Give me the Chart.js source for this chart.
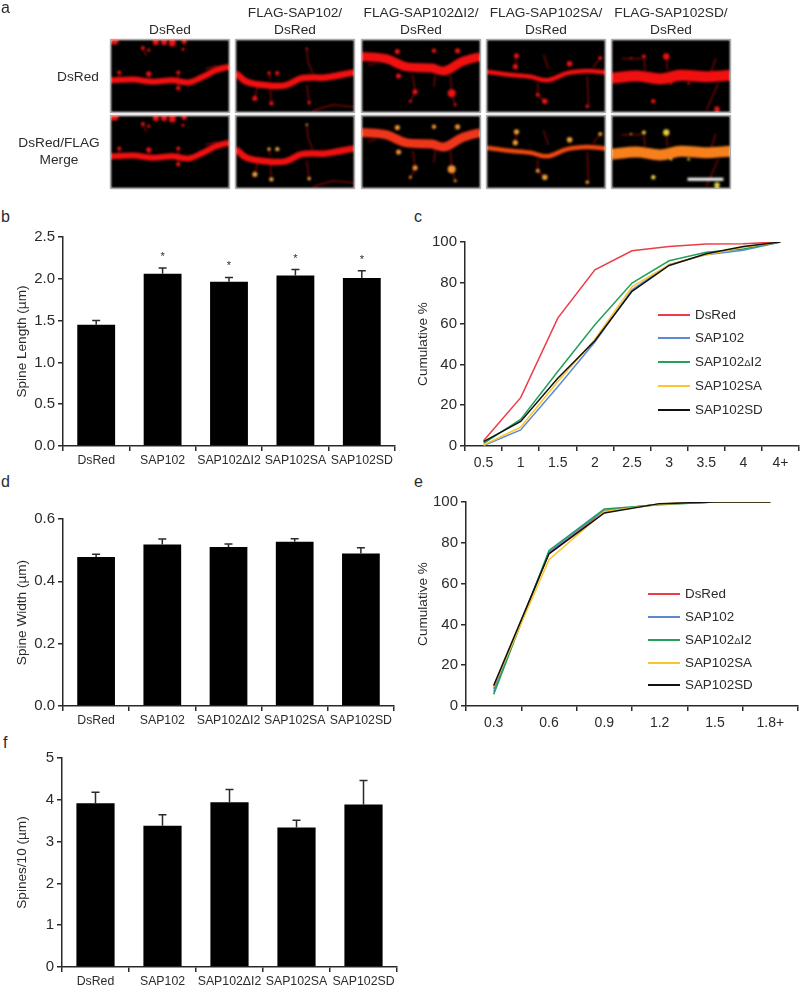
<!DOCTYPE html>
<html>
<head>
<meta charset="utf-8">
<title>SAP102 spines</title>
<script src="https://cdn.jsdelivr.net/npm/chart.js@4"></script>
<style>
  html, body { margin: 0; background: #fff; }
  body { position: relative; width: 800px; height: 985px; overflow: hidden; font-family: "Liberation Sans", Arial, sans-serif; color: #2b2b2b; }
  canvas { position: absolute; }
  .txt { position: absolute; white-space: nowrap; line-height: 1; }
  .head { font-size: 13.7px; transform: translate(-50%, -50%); text-align: center; line-height: 17px; }
  .letter { font-size: 16px; }
  .micro { background: #000; filter: blur(1px); }
  .frame { position: absolute; width: 118px; height: 72px; box-shadow: 0 0 0 1px #a8a8a8; }
  .plot { filter: blur(0.3px); }
  .key { position: absolute; font-size: 13.4px; height: 16px; line-height: 16px; white-space: nowrap; }
  .key i { position: absolute; left: 0; top: 7px; width: 32px; height: 1.5px; }
  .key span { position: absolute; top: 0; }
  .key small { font-size: 0.72em; }
</style>
</head>
<body>
<script>
// ---- panel b, d, f
const groups = ['DsRed', 'SAP102', 'SAP102ΔI2', 'SAP102SA', 'SAP102SD'];
const spineLength = [1.45, 2.06, 1.965, 2.04, 2.01];
const spineLengthErr = [1.50, 2.13, 2.017, 2.11, 2.097];
const spineLengthStars = [false, true, true, true, true];
const spineWidth = [0.478, 0.518, 0.51, 0.527, 0.489];
const spineWidthErr = [0.487, 0.536, 0.52, 0.537, 0.508];
const spineDensity = [3.92, 3.38, 3.94, 3.34, 3.89];
const spineDensityErr = [4.18, 3.64, 4.245, 3.51, 4.46];

// ---- panel c
const lengthBins = ['0.5', '1', '1.5', '2', '2.5', '3', '3.5', '4', '4+'];
const lenDsRed = [2.6, 23.7, 62.7, 86.4, 95.7, 97.8, 99, 99.2, 100];
const lenSap102 = [0.2, 7.9, 29, 51, 76.6, 88.9, 93.8, 95.9, 100];
const lenDeltaI2 = [1.3, 13, 36.5, 59.4, 79.9, 90.8, 95, 96.6, 100];
const lenSA = [0.5, 9.2, 31.6, 52.3, 78, 88.9, 93.8, 97.4, 100];
const lenSD = [2.1, 12, 33.2, 51.6, 75.8, 88.5, 94.2, 97.8, 100];

// ---- panel e
const widthBins = ['0.3', '0.6', '0.9', '1.2', '1.5', '1.8+'];
const widDsRed = [8.5, 75, 95.5, 99, 100, 100];
const widSap102 = [7, 75.5, 96, 98.9, 100, 100];
const widDeltaI2 = [5.7, 76.3, 96.6, 98.7, 100, 100];
const widSA = [9.5, 71.7, 95.4, 98.9, 100, 100];
const widSD = [10, 74.6, 94.6, 99.2, 100, 100];

const seriesNames = ['DsRed', 'SAP102', 'SAP102ΔI2', 'SAP102SA', 'SAP102SD'];
const seriesColors = ['#ee3c46', '#5b8ad2', '#23a05c', '#fdc52c', '#111111'];

const microHeads = [['DsRed'], ['FLAG-SAP102/', 'DsRed'], ['FLAG-SAP102ΔI2/', 'DsRed'], ['FLAG-SAP102SA/', 'DsRed'], ['FLAG-SAP102SD/', 'DsRed']];
const microLeft = [111, 236, 362, 487, 612];
const microTop = [40, 116];
const dendrites = [
  [[0, 56], [19, 55], [36, 58], [52, 56], [66, 59], [78, 51], [89, 42], [100, 37]],
  [[0, 46], [9, 58], [26, 63], [42, 63], [56, 53], [76, 52], [100, 45]],
  [[0, 23], [20, 26], [37, 37], [59, 39], [70, 43], [85, 30], [100, 23]],
  [[0, 44], [17, 48], [37, 51], [51, 56], [68, 46], [85, 43], [100, 45]],
  [[0, 53], [21, 50], [41, 54], [58, 49], [80, 51], [100, 49]]
];
const dendriteWidth = [6, 6.5, 9, 4.5, 11];
const branches = [
  [[[7, 45], [7, 52]], [[32, 47], [33, 53]], [[57, 45], [57, 67]], [[27, 11], [30, 22]], [[80, 40], [90, 36]]],
  [[[60, 12], [61, 30], [65, 46]], [[65, 98], [82, 90], [100, 93]], [[16, 81], [18, 65]], [[30, 88], [29, 65]], [[28, 46], [29, 55]], [[62, 87], [60, 62]]],
  [[[43, 48], [45, 72]], [[62, 48], [61, 65]], [[75, 48], [76, 74], [79, 90]], [[41, 85], [45, 72]], [[5, 35], [12, 33]]],
  [[[43, 60], [43, 76], [49, 85]], [[85, 50], [86, 92]], [[48, 20], [52, 40]], [[96, 25], [90, 38]], [[25, 22], [24, 37]]],
  [[[90, 60], [80, 98]], [[46, 23], [47, 42]], [[27, 23], [28, 42]], [[8, 26], [25, 26]], [[88, 25], [84, 44]]]
];
const spineDots = [
  [[7, 45, 2], [32, 47, 2.6], [57, 45, 2], [57, 67, 2.2], [27, 11, 2], [32, 14, 1.6], [45, 3, 3], [52, 4, 3.5], [38, 3, 3], [61, 13, 1.5], [3, 1, 4], [62, 2, 2.5]],
  [[16, 81, 2.6], [30, 88, 2.2], [28, 46, 1.8], [35, 46, 2.2], [62, 87, 1.8], [60, 12, 1.2]],
  [[30, 16, 2.6], [61, 15, 2.2], [81, 15, 2.6], [31, 50, 2.6], [45, 72, 2.6], [76, 74, 4], [41, 85, 1.5], [79, 90, 1.5]],
  [[25, 22, 2.6], [24, 37, 2.6], [70, 33, 2.8], [96, 25, 2], [43, 76, 2], [49, 85, 2.8], [85, 92, 1.8]],
  [[46, 23, 3.2], [27, 23, 2], [35, 85, 2.2], [89, 96, 2.8], [65, 60, 1.3], [50, 60, 1.3], [16, 25, 1]]
];
const mergeDendrite = ['#f01010', '#f01010', '#f0361a', '#f0480f', '#f77f1c'];
const mergeSpine = ['#ec1212', '#e8a038', '#f09030', '#f0a030', '#e6d038'];
const scaleBar = [[64, 88], [94.4, 88]];

Chart.defaults.font.family = '"Liberation Sans", Arial, sans-serif';
Chart.defaults.color = '#2b2b2b';
Chart.defaults.animation = false;
Chart.defaults.responsive = false;

function addCanvas(left, top, w, h, cls) {
  const c = document.createElement('canvas');
  c.width = w; c.height = h;
  c.style.cssText = `left:${left}px;top:${top}px;width:${w}px;height:${h}px`;
  c.className = cls;
  document.body.appendChild(c);
  return c.getContext('2d');
}

function addText(cls, x, y, html) {
  const d = document.createElement('div');
  d.className = 'txt ' + cls;
  d.style.left = x + 'px';
  d.style.top = y + 'px';
  d.innerHTML = html;
  document.body.appendChild(d);
}

// error caps and significance stars on top of the bars
const errorBars = {
  id: 'errorBars',
  afterDatasetsDraw(chart, args, opts) {
    const c = chart.ctx, y = chart.scales.y;
    chart.getDatasetMeta(0).data.forEach((bar, i) => {
      const top = y.getPixelForValue(opts.tops[i]);
      c.save();
      c.strokeStyle = '#2a2a2a';
      c.lineWidth = 1.5;
      c.beginPath();
      c.moveTo(bar.x, bar.y);
      c.lineTo(bar.x, top);
      c.moveTo(bar.x - 4, top);
      c.lineTo(bar.x + 4, top);
      c.stroke();
      if (opts.stars && opts.stars[i]) {
        c.fillStyle = '#2a2a2a';
        c.font = '11px "Liberation Sans"';
        c.textAlign = 'center';
        c.textBaseline = 'middle';
        c.fillText('*', bar.x, top - 11);
      }
      c.restore();
    });
  }
};

function axes(title, yMax, yStep, digits, yWidth, xHeight, xFont, xPad) {
  return {
    x: {
      offset: true,
      afterFit: s => { s.height = xHeight; },
      border: { color: '#2a2a2a', width: 1.5 },
      grid: { offset: true, drawOnChartArea: false, color: '#2a2a2a', tickLength: 5, lineWidth: 1.5 },
      ticks: { font: { size: xFont }, autoSkip: false, maxRotation: 0, padding: xPad }
    },
    y: {
      min: 0, max: yMax,
      afterFit: s => { s.width = yWidth; },
      border: { color: '#2a2a2a', width: 1.5 },
      grid: { drawOnChartArea: false, color: '#2a2a2a', tickLength: 5, lineWidth: 1.5 },
      ticks: { stepSize: yStep, font: { size: 15 }, padding: 3, callback: v => v.toFixed(digits) },
      title: { display: true, text: title, font: { size: 13.6 }, padding: 0 }
    }
  };
}

function barChart(box, title, values, tops, stars, yMax, yStep, digits) {
  new Chart(addCanvas(box.left, box.top, box.w, box.h, 'plot'), {
    type: 'bar',
    data: { labels: groups, datasets: [{ data: values, backgroundColor: '#000', categoryPercentage: 1, barPercentage: 0.57 }] },
    options: {
      layout: { padding: { top: box.padTop, right: box.padRight, left: 0, bottom: 0 } },
      scales: axes(title, yMax, yStep, digits, box.yWidth, box.xHeight, 12.3, 2),
      plugins: { legend: { display: false }, tooltip: { enabled: false }, errorBars: { tops, stars } }
    },
    plugins: [errorBars]
  });
}

function lineChart(box, bins, rows) {
  new Chart(addCanvas(box.left, box.top, box.w, box.h, 'plot'), {
    type: 'line',
    data: {
      labels: bins,
      // Chart.js paints low order last, black has to end up on top
      datasets: rows.map((r, i) => ({ label: seriesNames[i], data: r, order: rows.length - i, borderColor: seriesColors[i], borderWidth: 1.5, pointRadius: 0, tension: 0 }))
    },
    options: {
      layout: { padding: { top: box.padTop, right: box.padRight, left: 0, bottom: 0 } },
      scales: axes('Cumulative %', 100, 20, 0, box.yWidth, box.xHeight, 14, 4),
      plugins: { legend: { display: false }, tooltip: { enabled: false } }
    }
  });
}

function keyBox(x, ys) {
  seriesNames.forEach((name, i) => {
    const d = document.createElement('div');
    d.className = 'key';
    d.style.left = x + 'px';
    d.style.top = (ys[i] - 8) + 'px';
    d.innerHTML = `<i style="background:${seriesColors[i]}"></i><span style="left:37px">${name.replace('Δ', '<small>Δ</small>')}</span>`;
    document.body.appendChild(d);
  });
}

function microChart(left, top, idx, merged) {
  const dendriteColor = merged ? mergeDendrite[idx] : '#f01010';
  const spineColor = merged ? mergeSpine[idx] : '#ec1212';
  const pts = a => a.map(p => ({ x: p[0], y: p[1] }));
  const sets = [];
  if (merged && idx === 4) sets.push({ data: pts(scaleBar), borderColor: '#fff', borderWidth: 3, pointRadius: 0 });
  sets.push({ data: pts(spineDots[idx]), showLine: false, pointRadius: spineDots[idx].map(s => s[2]), pointBackgroundColor: spineColor, pointBorderWidth: 0 });
  sets.push({ data: pts(dendrites[idx]), borderColor: dendriteColor, borderWidth: dendriteWidth[idx], pointRadius: 0, tension: 0.35 });
  branches[idx].forEach(b => sets.push({ data: pts(b), borderColor: '#8c0a0a', borderWidth: 1.2, pointRadius: 0 }));
  new Chart(addCanvas(left, top, 118, 72, 'micro'), {
    type: 'line',
    data: { datasets: sets },
    options: {
      layout: { autoPadding: false },
      scales: {
        x: { type: 'linear', display: false, min: 0, max: 100 },
        y: { display: false, min: 0, max: 100, reverse: true }
      },
      plugins: { legend: { display: false }, tooltip: { enabled: false } }
    }
  });
  const f = document.createElement('div');
  f.className = 'frame';
  f.style.left = left + 'px';
  f.style.top = top + 'px';
  document.body.appendChild(f);
}

// panel a
microLeft.forEach((left, i) => {
  microChart(left, microTop[0], i, false);
  microChart(left, microTop[1], i, true);
  addText('head', left + 59, microHeads[i].length > 1 ? 20.5 : 29, microHeads[i].join('<br>'));
});
addText('head', 78, 76, 'DsRed');
addText('head', 59, 151, 'DsRed/FLAG<br>Merge');

// panel letters
addText('letter', 1, 0, 'a');
addText('letter', 1, 209, 'b');
addText('letter', 414, 209, 'c');
addText('letter', 1, 474, 'd');
addText('letter', 414, 474, 'e');
addText('letter', 3, 735, 'f');

barChart({ left: 14, top: 225, w: 386, h: 250, yWidth: 49, xHeight: 29, padTop: 12, padRight: 5 },
  'Spine Length (µm)', spineLength, spineLengthErr, spineLengthStars, 2.5, 0.5, 1);
barChart({ left: 14, top: 507, w: 386, h: 228, yWidth: 49, xHeight: 29, padTop: 12, padRight: 6 },
  'Spine Width (µm)', spineWidth, spineWidthErr, null, 0.6, 0.2, 1);
barChart({ left: 14, top: 745, w: 386, h: 240, yWidth: 48, xHeight: 18, padTop: 13, padRight: 3 },
  'Spines/10 (µm)', spineDensity, spineDensityErr, null, 5, 1, 0);

lineChart({ left: 415, top: 230, w: 385, h: 245, yWidth: 50, xHeight: 29, padTop: 12, padRight: 1 }, lengthBins,
  [lenDsRed, lenSap102, lenDeltaI2, lenSA, lenSD]);
lineChart({ left: 415, top: 490, w: 385, h: 245, yWidth: 51, xHeight: 29, padTop: 12, padRight: 2 }, widthBins,
  [widDsRed, widSap102, widDeltaI2, widSA, widSD]);
keyBox(658, [315, 338, 362, 386, 410]);
keyBox(648, [594, 617, 640, 663, 685]);
</script>
</body>
</html>
